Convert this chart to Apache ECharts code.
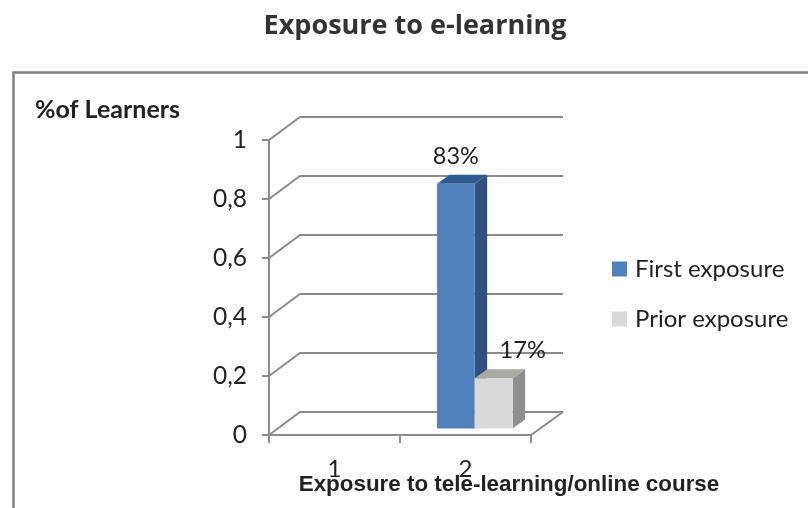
<!DOCTYPE html>
<html>
<head>
<meta charset="utf-8">
<style>html,body{margin:0;padding:0;background:#fff}#c{width:808px;height:508px}</style>
<script src="https://cdn.jsdelivr.net/npm/echarts@6/dist/echarts.min.js"></script>
</head>
<body>
<div id="c"></div>
<script>
const categories = ['1', '2'];
const firstExposure = [null, 0.83];
const priorExposure = [null, 0.17];
const gridValues = [0, 0.2, 0.4, 0.6, 0.8, 1];
const firstLabel = '83%';
const priorLabel = '17%';

const lineColor = '#8c8c8c';
const wallDX = 31, wallDY = 23;      // perspective offset of back wall
const baseDY = 6.5;                  // bar base above front floor edge
const depthDX = 12.5, depthDY = 9;   // bar depth

function wallItem(params, api) {
  const cs = params.coordSys;
  const v = api.value(0);
  const y = api.coord([0, v])[1];
  const x0 = cs.x, x1 = cs.x + cs.width;
  const children = [];
  const style = { stroke: lineColor, lineWidth: 2, fill: null };
  children.push({ type: 'polyline', shape: { points: [[x0, y], [x0 + wallDX, y - wallDY], [x1 + wallDX + 1, y - wallDY]] }, style });
  if (v === 0) {
    children.push({ type: 'line', shape: { x1: x1, y1: y, x2: x1 + wallDX + 1, y2: y - wallDY }, style });
  }
  return { type: 'group', children };
}

function barRenderer(opts) {
  return function (params, api) {
    const val = api.value(1);
    if (val == null || isNaN(val)) return null;
    const band = api.size([1, 0])[0];
    const c = api.coord([api.value(0), val]);
    const b = api.coord([api.value(0), 0]);
    const l = c[0] + opts.from * band;
    const r = c[0] + opts.to * band;
    const t = c[1] - baseDY;
    const bt = b[1] - baseDY;
    const dx = depthDX, dy = depthDY;
    return {
      type: 'group',
      children: [
        { type: 'polygon', shape: { points: [[r, t], [r + dx, t - dy], [r + dx, bt - dy], [r, bt]] }, style: { fill: opts.side } },
        { type: 'polygon', shape: { points: [[l, t], [l + dx, t - dy], [r + dx, t - dy], [r, t]] }, style: { fill: opts.top } },
        { type: 'rect', shape: { x: l, y: t, width: r - l, height: bt - t }, style: { fill: opts.front } },
        { type: 'text', x: (l + r) / 2 + opts.labelDX, y: t + opts.labelDY,
          style: { text: opts.label, fill: '#222', font: '23.5px Lato', textAlign: 'center', textVerticalAlign: 'middle' } }
      ]
    };
  };
}

const chart = echarts.init(document.getElementById('c'), null, { renderer: 'canvas' });
chart.setOption({
  animation: false,
  backgroundColor: '#fff',
  title: [
    { text: 'Exposure to e-learning', left: 415, top: 13, padding: 0, textAlign: 'center',
      textStyle: { fontFamily: 'Open Sans', fontWeight: 'bold', fontSize: 27, color: '#333' } },
    { text: '%of Learners', left: 35, top: 97, padding: 0,
      textStyle: { fontFamily: 'Lato', fontWeight: 'bold', fontSize: 25, color: '#222' } },
    { text: 'Exposure to tele-learning/online course', left: 509, top: 474, padding: 0, textAlign: 'center',
      textStyle: { fontFamily: 'Liberation Sans', fontWeight: 'bold', fontSize: 22.4, color: '#222' } }
  ],
  graphic: [
    { type: 'polyline', silent: true, z: -1,
      shape: { points: [[13.5, 508], [13.5, 72.5], [808, 72.5]] },
      style: { stroke: '#808080', lineWidth: 2.5, fill: null } }
  ],
  legend: {
    orient: 'vertical', left: 607, top: 252, itemWidth: 15, itemHeight: 15, itemGap: 26,
    icon: 'rect',
    data: ['First exposure', 'Prior exposure'],
    textStyle: { fontFamily: 'Lato', fontSize: 24, color: '#222', padding: [0, 0, 0, 3] }
  },
  grid: { left: 269, right: 277, top: 140, bottom: 73, containLabel: false },
  xAxis: {
    type: 'category', data: categories,
    axisLine: { lineStyle: { color: lineColor, width: 2 } },
    axisTick: { show: true, alignWithLabel: false, length: 8, lineStyle: { color: lineColor, width: 2 } },
    axisLabel: { fontFamily: 'Lato', fontSize: 24, color: '#222', margin: 22 },
    splitLine: { show: false }
  },
  yAxis: {
    type: 'value', min: 0, max: 1, interval: 0.2,
    axisLine: { show: true, lineStyle: { color: lineColor, width: 2 } },
    axisTick: { show: true, length: 7, lineStyle: { color: lineColor, width: 2 } },
    axisLabel: { fontFamily: 'Lato', fontSize: 24.5, color: '#222', margin: 22, padding: [4, 0, 0, 0],
      formatter: v => String(+v.toFixed(1)).replace('.', ',') },
    splitLine: { show: false }
  },
  series: [
    { type: 'custom', name: 'walls', silent: true, z: 1, renderItem: wallItem,
      encode: { y: 0 }, data: gridValues.map(v => [v]) },
    { type: 'custom', name: 'First exposure', z: 2, itemStyle: { color: '#4f81bd' },
      renderItem: barRenderer({ from: -0.217, to: 0.07, front: '#4f81bd', side: '#2f5282', top: '#2f5a8f', label: firstLabel, labelDX: 0, labelDY: -27 }),
      encode: { x: 0, y: 1 }, data: firstExposure.map((v, i) => [i, v]) },
    { type: 'custom', name: 'Prior exposure', z: 3, itemStyle: { color: '#d9d9d9' },
      renderItem: barRenderer({ from: 0.07, to: 0.36, front: '#d9d9d9', side: '#8f8f8f', top: '#a8a8a4', label: priorLabel, labelDX: 29, labelDY: -28 }),
      encode: { x: 0, y: 1 }, data: priorExposure.map((v, i) => [i, v]) }
  ]
});
</script>
</body>
</html>
